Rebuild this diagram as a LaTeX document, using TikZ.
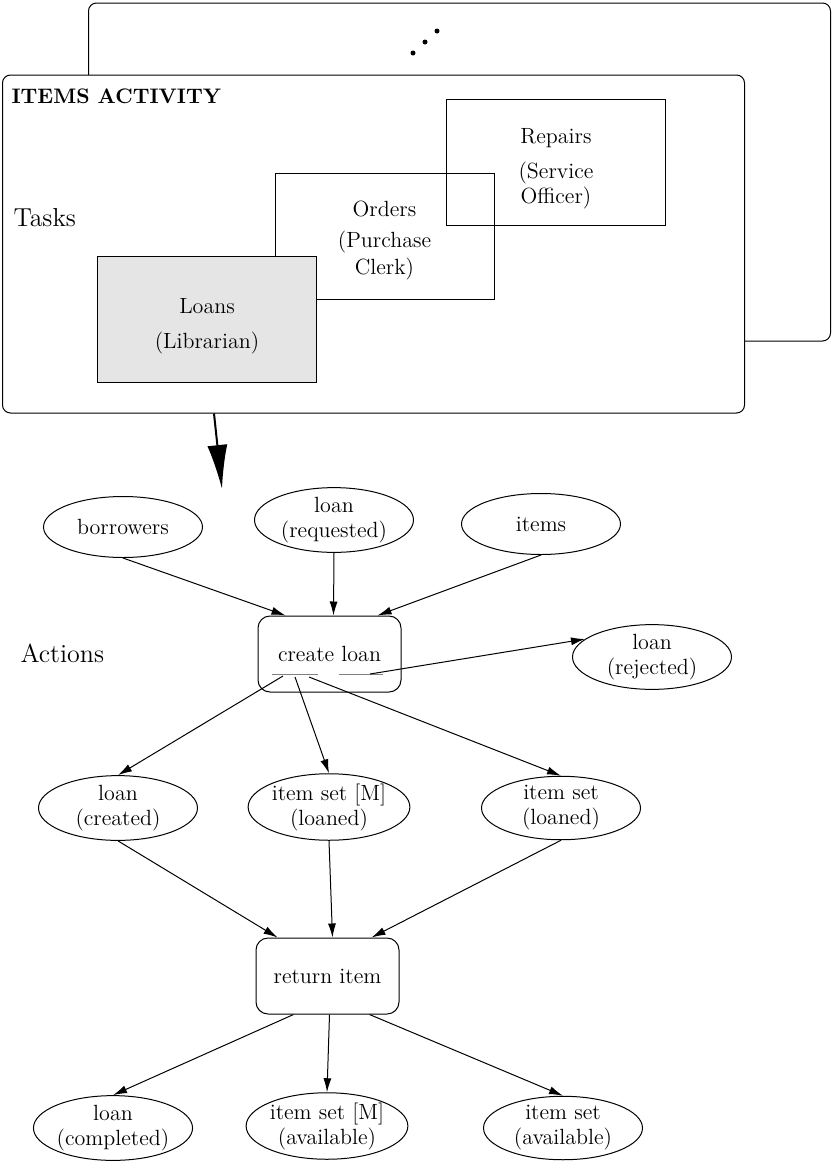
\documentclass[tikz,border=0pt]{standalone}
\usetikzlibrary{arrows.meta,shapes.geometric}

\begin{document}
\begin{tikzpicture}[x=0.5pt,y=-0.5pt,line width=0.5pt,
    font=\fontsize{11}{12.5}\selectfont,
    >={Latex[length=7pt,width=4pt]},
    frame/.style={draw,fill=white,rounded corners=4pt,minimum width=371pt,minimum height=169pt,inner sep=0pt},
    task/.style={draw,align=center,minimum width=109.5pt,minimum height=63pt,inner sep=0pt},
    place/.style={draw,ellipse,align=center,minimum width=79.5pt,minimum height=30.5pt,inner sep=0pt},
    action/.style={draw,rounded corners=6pt,minimum width=71.5pt,minimum height=38pt,inner sep=0pt},
    label/.style={anchor=base west,inner sep=0pt,font=\fontsize{13}{15}\selectfont}]
    \useasboundingbox (0,0) rectangle (832,1162);

    % activity frames
    \node[frame] at (459.5,172)(back){};
    \node[frame] at (373.5,244)(activity){};
    \fill (413,53) circle (1.25pt) (425,42) circle (1.25pt) (437,31) circle (1.25pt);
    \node[anchor=base west,inner sep=0pt,font=\fontsize{10.5}{12}\selectfont\bfseries] at (11,103)(title){ITEMS ACTIVITY};
    \node[label] at (13,226)(tasks){Tasks};

    % tasks
    \node[task] at (556,162)(repairs){\rule{0pt}{14pt}Repairs\\[5pt](Service\\Officer)};
    \node[task] at (384.5,236.5)(orders){\rule{0pt}{12pt}Orders\\[3pt](Purchase\\[1pt]Clerk)};
    \node[task,fill=black!10] at (207,319.5)(loans){\rule{0pt}{14pt}Loans\\[5pt](Librarian)};

    \coordinate (down) at (222,489);
    \draw[line width=1pt,-{Latex[length=22pt,width=10pt]}] ([xshift=-79.75pt]activity.south) -- (down);

    % actions
    \node[label] at (20,662)(actions){Actions};
    \node[place] at (123,527)(borrowers){borrowers};
    \node[place] at (334,520)(loanreq){loan\\(requested)};
    \node[place] at (541,524)(items){items};
    \node[action] at (329.5,654)(create){create loan};
    \node[place] at (652,657)(rejected){loan\\(rejected)};
    \node[place] at (118,808)(loancr){loan\\(created)};
    \node[place] at (329,807)(setmloaned){item set [M]\\(loaned)};
    \node[place] at (561,808)(setloaned){item set\\(loaned)};
    \node[action] at (327.5,976)(return){return item};
    \node[place] at (113,1128)(loancomp){loan\\(completed)};
    \node[place] at (327,1126)(setmavail){item set [M]\\(available)};
    \node[place] at (563,1128)(setavail){item set\\(available)};

    \draw[gray] (272,674) -- (318,674) (339,674) -- (383,674);
    \coordinate (c1) at (283,676);
    \coordinate (c2) at (295,677);
    \coordinate (c3) at (309,677);
    \coordinate (c4) at (370,674);

    \path[->]
        (borrowers.south)edge([xshift=-22pt]create.north)
        (loanreq.south)edge([xshift=2pt]create.north)
        (items.south)edge([xshift=24pt]create.north)
        (c4)edge(rejected.165)
        (c1)edge(loancr.north)
        (c2)edge(setmloaned.north)
        (c3)edge(setloaned.north)
        (loancr.south)edge([xshift=-25pt]return.north)
        (setmloaned.south)edge([xshift=2.5pt]return.north)
        (setloaned.south)edge([xshift=22pt]return.north)
        ([xshift=-17pt]return.south)edge(loancomp.north)
        ([xshift=1pt]return.south)edge(setmavail.north)
        ([xshift=21pt]return.south)edge(setavail.north)
        ;
\end{tikzpicture}
\end{document}
